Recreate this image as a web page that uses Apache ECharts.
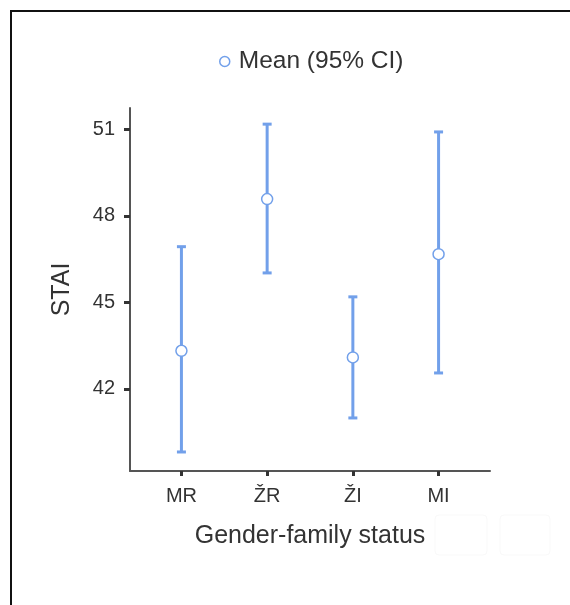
<!DOCTYPE html>
<html>
<head>
<meta charset="utf-8">
<script src="https://cdn.jsdelivr.net/npm/echarts@6/dist/echarts.min.js"></script>
<style>
html,body{margin:0;padding:0;background:#fff;}
#c{width:570px;height:605px;}
</style>
</head>
<body>
<div id="c"></div>
<script>
const categories = ['MR', 'ŽR', 'ŽI', 'MI'];
const means = [43.32, 48.58, 43.09, 46.67];
const lower = [39.81, 46.02, 40.99, 42.55];
const upper = [46.93, 51.18, 45.19, 50.91];
const yTicks = [42, 45, 48, 51];

const BLUE = '#72a0ea';
const FONT = '"Liberation Sans", Arial, sans-serif';

const chart = echarts.init(document.getElementById('c'));
const errData = categories.map((c, i) => [i + 1, lower[i], upper[i]]);
const meanData = categories.map((c, i) => [i + 1, means[i]]);

chart.setOption({
  animation: false,
  backgroundColor: '#fff',
  textStyle: { fontFamily: FONT },
  legend: {
    top: 44,
    left: 214,
    itemWidth: 10,
    itemHeight: 10,
    itemGap: 6,
    textStyle: { fontSize: 24.5, color: '#333', fontFamily: FONT, padding: [0, 0, 0, 4] },
    data: [{ name: 'Mean (95% CI)', icon: 'circle', itemStyle: { color: '#fff', borderColor: BLUE, borderWidth: 1.5 } }]
  },
  grid: { left: 130, right: 80, top: 108, bottom: 134 },
  xAxis: {
    type: 'value',
    min: 0.4,
    max: 4.6,
    name: 'Gender-family status',
    nameLocation: 'middle',
    nameGap: 53,
    nameTextStyle: { fontSize: 25, color: '#333', fontFamily: FONT },
    axisLine: { show: true, lineStyle: { color: '#555', width: 2 } },
    axisTick: { show: true, length: 5, lineStyle: { color: '#333', width: 3 }, customValues: [1, 2, 3, 4] },
    axisLabel: {
      fontSize: 20, color: '#333', margin: 15, fontFamily: FONT,
      customValues: [1, 2, 3, 4],
      formatter: v => categories[Math.round(v) - 1] || ''
    },
    splitLine: { show: false }
  },
  yAxis: {
    type: 'value',
    min: 39.15,
    max: 51.74,
    name: 'STAI',
    nameLocation: 'middle',
    nameGap: 55,
    nameTextStyle: { fontSize: 25, color: '#333', fontFamily: FONT },
    axisLine: { show: true, lineStyle: { color: '#555', width: 2 } },
    axisTick: { show: true, length: 6, lineStyle: { color: '#333', width: 3 }, customValues: yTicks },
    axisLabel: {
      fontSize: 20, color: '#333', margin: 15, fontFamily: FONT,
      customValues: yTicks,
      formatter: v => String(Math.round(v))
    },
    splitLine: { show: false }
  },
  series: [
    {
      type: 'custom',
      name: 'CI',
      data: errData,
      z: 2,
      renderItem: function (params, api) {
        const x = api.value(0);
        const lo = api.coord([x, api.value(1)]);
        const hi = api.coord([x, api.value(2)]);
        const hw = 4.5;
        const style = { stroke: BLUE, lineWidth: 3, fill: null };
        return {
          type: 'group',
          children: [
            { type: 'line', shape: { x1: lo[0], y1: lo[1], x2: hi[0], y2: hi[1] }, style: style },
            { type: 'line', shape: { x1: lo[0] - hw, y1: lo[1], x2: lo[0] + hw, y2: lo[1] }, style: style },
            { type: 'line', shape: { x1: hi[0] - hw, y1: hi[1], x2: hi[0] + hw, y2: hi[1] }, style: style }
          ]
        };
      }
    },
    {
      type: 'scatter',
      name: 'Mean (95% CI)',
      data: meanData,
      z: 3,
      symbol: 'circle',
      symbolSize: 11,
      itemStyle: { color: '#fff', borderColor: BLUE, borderWidth: 1.5, opacity: 1 }
    }
  ],
  graphic: [
    { type: 'rect', shape: { x: 11, y: 11, width: 620, height: 640 }, style: { fill: null, stroke: '#111', lineWidth: 2 }, silent: true },
    { type: 'rect', shape: { x: 435, y: 515, width: 52, height: 40, r: 4 }, style: { fill: null, stroke: '#f9f9f9', lineWidth: 1 }, silent: true },
    { type: 'rect', shape: { x: 500, y: 515, width: 50, height: 40, r: 4 }, style: { fill: null, stroke: '#f9f9f9', lineWidth: 1 }, silent: true }
  ]
});
</script>
</body>
</html>
